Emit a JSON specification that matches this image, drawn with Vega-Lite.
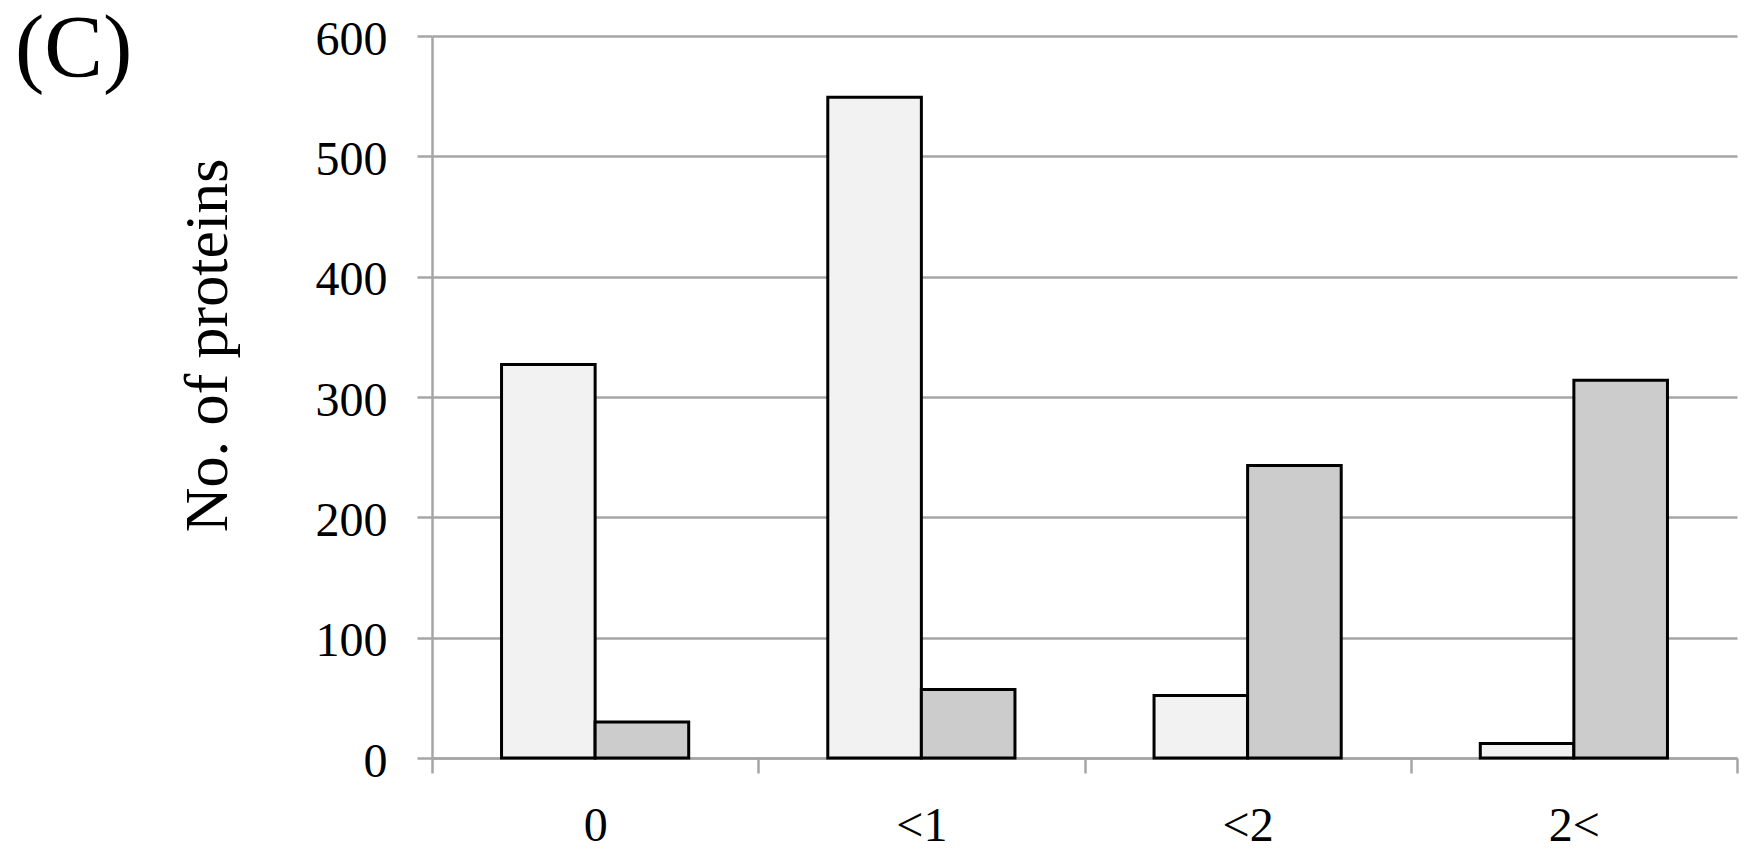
{
  "$schema": "https://vega.github.io/schema/vega-lite/v6.json",
  "autosize": {"type": "none"},
  "padding": {"left": 432, "top": 36, "right": 18, "bottom": 104},
  "width": 1305,
  "height": 722,
  "background": "white",
  "title": {
    "text": "(C)",
    "anchor": "start",
    "frame": "group",
    "orient": "top",
    "font": "Liberation Serif",
    "fontSize": 88,
    "fontWeight": "normal",
    "color": "black",
    "baseline": "alphabetic",
    "dx": -417,
    "offset": -148
  },
  "data": {
    "values": [
      {"category": "0", "series": "A", "value": 327},
      {"category": "0", "series": "B", "value": 30},
      {"category": "<1", "series": "A", "value": 549},
      {"category": "<1", "series": "B", "value": 57},
      {"category": "<2", "series": "A", "value": 52},
      {"category": "<2", "series": "B", "value": 243},
      {"category": "2<", "series": "A", "value": 12},
      {"category": "2<", "series": "B", "value": 314}
    ]
  },
  "config": {
    "view": {"stroke": null},
    "axis": {
      "labelFont": "Liberation Serif",
      "titleFont": "Liberation Serif",
      "labelColor": "black",
      "titleColor": "black",
      "domainColor": "#a6a6a6",
      "tickColor": "#a6a6a6",
      "gridColor": "#a6a6a6",
      "domainWidth": 2.5,
      "tickWidth": 2.5,
      "gridWidth": 2.5
    }
  },
  "mark": {"type": "bar", "stroke": "black", "strokeWidth": 3},
  "encoding": {
    "x": {
      "field": "category",
      "type": "nominal",
      "sort": ["0", "<1", "<2", "2<"],
      "scale": {"paddingInner": 0, "paddingOuter": 0},
      "axis": {
        "title": null,
        "labelAngle": 0,
        "labelFontSize": 48,
        "labelBaseline": "alphabetic",
        "labelPadding": 67,
        "tickSize": 15,
        "tickBand": "extent",
        "grid": false
      }
    },
    "xOffset": {
      "field": "series",
      "type": "nominal",
      "scale": {"paddingInner": 0, "paddingOuter": 0.743}
    },
    "y": {
      "field": "value",
      "type": "quantitative",
      "scale": {"domain": [0, 600], "nice": false},
      "axis": {
        "title": "No. of proteins",
        "values": [0, 100, 200, 300, 400, 500, 600],
        "labelFontSize": 48,
        "labelPadding": 30,
        "labelOffset": 4,
        "tickSize": 15,
        "grid": true,
        "titleFontSize": 62,
        "titleFontWeight": "normal",
        "titleAngle": 270,
        "titleBaseline": "alphabetic",
        "titleAlign": "center",
        "titleX": -206,
        "titleY": 309
      }
    },
    "color": {
      "field": "series",
      "type": "nominal",
      "scale": {"domain": ["A", "B"], "range": ["#f2f2f2", "#cccccc"]},
      "legend": null
    }
  }
}
